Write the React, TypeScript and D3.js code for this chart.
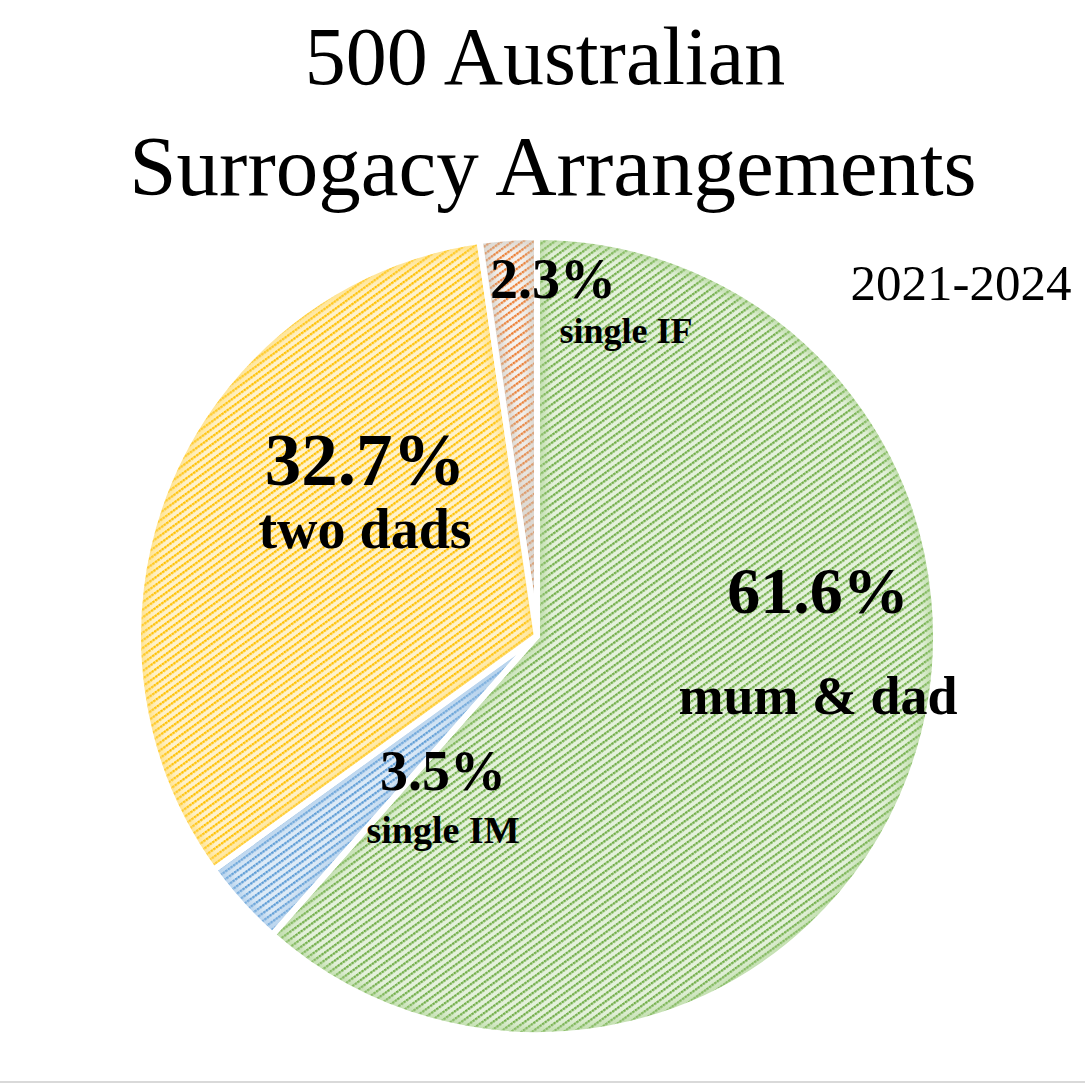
import React from 'react';
import * as d3 from 'd3';

// Share of arrangements, clockwise from 12 o'clock
const categories = ['mum & dad', 'single IM', 'two dads', 'single IF'];
const shares = [61.6, 3.5, 32.7, 2.3];
const yearRange = '2021-2024';
const titleLines = ['500 Australian', 'Surrogacy Arrangements'];

// Fill styling per slice (pattern fore / back, edge glow)
const palette = [
  { fg: '#70AD47', bg: '#E4F1DB', edge: '#A9D18E' },
  { fg: '#5B9BD5', bg: '#DEEBF7', edge: '#9DC3E6' },
  { fg: '#FFC000', bg: '#FFF2CC', edge: '#FFD966' },
  { fg: '#ED7D31', bg: '#F5F2EF', edge: '#C8C3BA' },
];

// Manually placed data labels (as in the source chart)
const labelLayout = [
  { x: 818, pctY: 613, pctSize: 66, nameY: 714, nameSize: 54 },
  { x: 443, pctY: 790, pctSize: 56, nameY: 843, nameSize: 38 },
  { x: 365, pctY: 485, pctSize: 73, nameY: 548, nameSize: 56 },
  { x: 553, pctY: 298, pctSize: 56, nameY: 343, nameSize: 36, nameX: 626 },
];

const W = 1085;
const H = 1085;
const cx = 537;
const cy = 636;
const R = 399;
const serif = '"Liberation Serif", "DejaVu Serif", serif';

const App: React.FC = () => {
  const pie = d3
    .pie<number>()
    .sort(null)
    .value((d) => d);
  const arcs = pie(shares);
  const arc = d3.arc<d3.PieArcDatum<number>>().innerRadius(0).outerRadius(R);

  return (
    <div style={{ position: 'absolute', left: 0, top: 0 }}>
      <svg width={W} height={H} style={{ display: 'block', background: '#fff' }}>
        <defs>
          {palette.map((p, i) => (
            <pattern
              key={'pat' + i}
              id={'pat' + i}
              patternUnits="userSpaceOnUse"
              width={3.2}
              height={6.2}
              patternTransform="rotate(-36)"
            >
              <rect x={0} y={0} width={3.2} height={6.2} fill={p.bg} />
              <rect x={0} y={0} width={2.2} height={2.3} fill={p.fg} />
              <rect x={2.2} y={0.5} width={1} height={1.3} fill={p.fg} opacity={0.6} />
            </pattern>
          ))}
          {arcs.map((a, i) => (
            <clipPath key={'clip' + i} id={'clip' + i}>
              <path d={arc(a) || ''} />
            </clipPath>
          ))}
          <filter id="soft" x="-10%" y="-10%" width="120%" height="120%">
            <feGaussianBlur stdDeviation={4} />
          </filter>
        </defs>

        <g transform={`translate(${cx},${cy})`}>
          {arcs.map((a, i) => (
            <g key={categories[i]}>
              <path d={arc(a) || ''} fill={`url(#pat${i})`} />
              <g clipPath={`url(#clip${i})`}>
                <path
                  d={arc(a) || ''}
                  fill="none"
                  stroke={palette[i].edge}
                  strokeWidth={18}
                  opacity={0.55}
                  filter="url(#soft)"
                />
              </g>
            </g>
          ))}
          {arcs.map((a, i) => (
            <path
              key={'sep' + i}
              d={arc(a) || ''}
              fill="none"
              stroke="#fff"
              strokeWidth={6}
              strokeLinejoin="round"
            />
          ))}
        </g>

        {/* title */}
        <text x={545} y={84} textAnchor="middle" fontFamily={serif} fontSize={82} fill="#000">
          {titleLines[0]}
        </text>
        <text x={553} y={195} textAnchor="middle" fontFamily={serif} fontSize={85} fill="#000">
          {titleLines[1]}
        </text>
        <text x={961} y={300} textAnchor="middle" fontFamily={serif} fontSize={51} fill="#000">
          {yearRange}
        </text>

        {/* data labels */}
        {labelLayout.map((l, i) => (
          <g key={'lbl' + i} fontFamily={serif} fontWeight="bold" fill="#000" textAnchor="middle">
            <text x={l.x} y={l.pctY} fontSize={l.pctSize}>
              {shares[i].toFixed(1)}%
            </text>
            <text x={l.nameX ?? l.x} y={l.nameY} fontSize={l.nameSize}>
              {categories[i]}
            </text>
          </g>
        ))}

        <line x1={0} x2={W} y1={1082} y2={1082} stroke="#D9D9D9" strokeWidth={2} />
      </svg>
    </div>
  );
};

export default App;
